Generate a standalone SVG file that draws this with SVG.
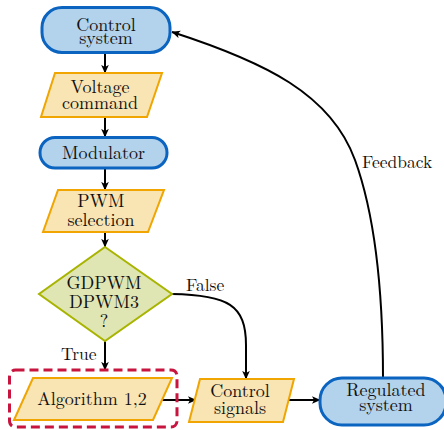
<svg xmlns="http://www.w3.org/2000/svg" width="444" height="430" viewBox="0 0 444 430" font-family="'Latin Modern Roman', 'Liberation Serif', serif">
<style>
  .t { font-size: 18px; fill: #111; text-anchor: middle; }
  .lbl { font-size: 17.5px; fill: #111; }
  .term { fill: #B3D2EC; stroke: #0B64C0; stroke-width: 3; }
  .io { fill: #F9E4B3; stroke: #F0A500; stroke-width: 2; stroke-linejoin: miter; }
  .dec { fill: #E0E6B3; stroke: #A8B400; stroke-width: 2; }
  .conn { fill: none; stroke: #000; stroke-width: 2; marker-end: url(#arr); }
  .grp { fill: none; stroke: #C8153F; stroke-width: 3; stroke-dasharray: 9 5; }
</style>
<defs>
  <marker id="arr" viewBox="0 0 10 10" refX="9.5" refY="5" markerWidth="8.5" markerHeight="8.5" markerUnits="userSpaceOnUse" orient="auto">
    <path d="M0,0.5 L10,5 L0,9.5 L2.5,5 Z" fill="#000"/>
  </marker>
</defs>
<rect width="444" height="430" fill="#fff"/>

<g id="connectors">
  <path class="conn" d="M105,53 L105,73"/>
  <path class="conn" d="M105,117 L105,137"/>
  <path class="conn" d="M105,168 L105,190"/>
  <path class="conn" d="M105,232 L105,247"/>
  <path class="conn" d="M105,341 L105,370"/>
  <path class="conn" d="M162,400 L196,400"/>
  <path class="conn" d="M288,400 L320,400"/>
  <path class="conn" d="M172,294 C228,295 246,305 246,345 L246,379"/>
  <path class="conn" d="M383,378 C383,290 375,215 355,160 C331,94 265,62 172,32"/>
  <text class="lbl" x="186" y="291">False</text>
  <text class="lbl" x="61" y="360">True</text>
  <text class="lbl" x="362" y="168">Feedback</text>
</g>

<g id="control-system">
  <rect class="term" x="42" y="7.5" width="128" height="45" rx="20"/>
  <text class="t" x="106" y="31">Control</text>
  <text class="t" x="106" y="43.5">system</text>
</g>

<g id="voltage-command">
  <polygon class="io" points="55,73 162,73 147,117 41,117"/>
  <text class="t" x="100" y="92.5">Voltage</text>
  <text class="t" x="100" y="108.5">command</text>
</g>

<g id="modulator">
  <rect class="term" x="40" y="137.5" width="127" height="30.5" rx="15"/>
  <text class="t" x="103.5" y="158.5">Modulator</text>
</g>

<g id="pwm-selection">
  <polygon class="io" points="58,190 164,190 148,232 43,232"/>
  <text class="t" x="101" y="207">PWM</text>
  <text class="t" x="101" y="225.5">selection</text>
</g>

<g id="decision">
  <polygon class="dec" points="105,247 172,294 105,341 39,294"/>
  <text class="t" x="104" y="288.5">GDPWM</text>
  <text class="t" x="104" y="308">DPWM3</text>
  <text class="t" x="104" y="327">?</text>
</g>

<g id="algorithm-group">
  <rect class="grp" x="9.5" y="370" width="167.5" height="57" rx="6"/>
</g>

<g id="algorithm">
  <polygon class="io" points="33,378 172,378 153,420 14,420"/>
  <text class="t" x="92" y="404.5">Algorithm 1,2</text>
</g>

<g id="control-signals">
  <polygon class="io" points="200,379 294,379 283,422 189,422"/>
  <text class="t" x="240" y="397">Control</text>
  <text class="t" x="240" y="413.5">signals</text>
</g>

<g id="regulated-system">
  <rect class="term" x="320" y="378" width="126" height="47" rx="22"/>
  <text class="t" x="386" y="395.5">Regulated</text>
  <text class="t" x="386" y="411">system</text>
</g>
</svg>
